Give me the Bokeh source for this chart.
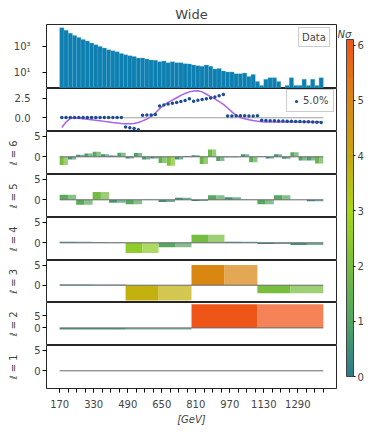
import numpy as np
from bokeh.plotting import figure
from bokeh.layouts import column, row
from bokeh.models import (Range1d, FixedTicker, ColumnDataSource, LinearColorMapper, ColorBar,
                          Legend, LegendItem, Label, NumeralTickFormatter)
from bokeh.transform import transform
from bokeh.embed import file_html
from bokeh.resources import INLINE

# ---------------- data ----------------
title_text = "Wide"
x_lo, x_hi, bin_width = 170, 1410, 20

hist_counts = [24500, 16300, 9600, 6500, 4550, 3200, 2400, 1690, 1270, 950,
               710, 530, 450, 375, 280, 223, 187, 166, 124, 124,
               104, 88, 83, 66, 73, 55, 66, 55, 55, 46,
               44, 36, 32, 30, 36, 30, 18, 20, 13, 11,
               11, 8, 8, 9, 5, 7, 2, 1, 3, 4,
               4, 2, 0, 1, 4, 1, 1, 3, 1, 3,
               1, 4]

ratio_points = [0.04, 0.03, 0.03, 0.03, 0.03, 0.03, 0.03, 0.03, 0.03, 0.03,
                0.03, 0.03, 0.03, 0.03, 0.03,
                -1.19, -1.28, -1.36, -1.53,
                0.32, 0.34, 0.36, 0.42,
                1.49, 1.62, 1.74, 1.85, 1.96, 2.07, 2.20, 2.42,
                2.12, 2.22, 2.32, 2.42, 2.53, 2.65, 2.80, 2.97,
                0.22, 0.24, 0.26, 0.26, 0.25, 0.24, 0.24, 0.25,
                -0.32, -0.35, -0.37, -0.39, -0.40, -0.42, -0.44, -0.45,
                -0.47, -0.49, -0.50, -0.52, -0.54, -0.56, -0.60]

ratio_curve = [-1.25, -0.55, -0.08, -0.02, -0.06, -0.12, -0.18, -0.25, -0.32, -0.39,
               -0.46, -0.53, -0.60, -0.66, -0.72, -0.76, -0.76, -0.72, -0.60, -0.40,
               -0.15, 0.15, 0.60, 1.15, 1.60, 1.95, 2.25, 2.55, 2.85, 3.10,
               3.30, 3.42, 3.45, 3.30, 3.00, 2.70, 2.40, 2.05, 1.70, 1.25,
               0.75, 0.30, 0.02, -0.12, -0.25, -0.36, -0.45, -0.50, -0.53, -0.54,
               -0.55, -0.55, -0.55, -0.55, -0.55, -0.55, -0.55, -0.55, -0.55, -0.55,
               -0.55, -0.55]

legend_data = "Data"
legend_ratio = "5.0%"

coef_l1 = [0.0]
coef_l2 = [-0.65, 9.9]
coef_l3 = [0.15, -3.8, 5.0, -2.0]
coef_l4 = [0.24, 0.16, -2.5, -1.05, 1.94, 0.24, -0.32, -0.55]
coef_l5 = [1.2, -1.2, 1.9, -0.7, -1.1, -0.05, -0.55, 0.5,
           -0.3, 1.1, 0.6, 0.05, -1.1, 1.1, 0.0, -0.35]
coef_l6 = [-2.0, -0.67, 0.5, 0.8, 1.2, 0.6, 0.33, 1.0,
           -0.4, 0.9, -0.67, -0.4, -1.5, -2.2, -0.67, 0.2,
           0.37, -1.75, 1.78, -1.0, -0.12, -0.1, 0.62, -1.3,
           0.12, -0.42, 0.6, -0.5, 1.1, -0.9, -0.9, -1.6]
level_names = ["ℓ = 6", "ℓ = 5", "ℓ = 4", "ℓ = 3", "ℓ = 2", "ℓ = 1"]
level_coefs = [coef_l6, coef_l5, coef_l4, coef_l3, coef_l2, coef_l1]

x_major_ticks = [170, 330, 490, 650, 810, 970, 1130, 1290]
x_minor_ticks = list(range(170, 1411, 40))
cbar_ticks = [0, 1, 2, 3, 4, 5, 6]
x_label = "[GeV]"
cbar_label = "Nσ"

# ---------------- style ----------------
FONT = "DejaVu Sans"
FS = "10px"
cmap_stops = [(0.0, "#2c7b8e"), (1.0, "#52a562"), (2.0, "#78be3e"), (3.0, "#a8d814"),
              (4.0, "#c8a70e"), (5.0, "#da8712"), (6.1, "#f05518")]
c_high = 6.1
LEFT = 46
FIG_W = LEFT + 290 + 1
CB_W = 34
TOTAL_H = 427


def hex2rgb(h):
    return [int(h[i:i + 2], 16) for i in (1, 3, 5)]


def build_palette(n=256):
    vals = np.linspace(0, c_high, n)
    sv = [s[0] for s in cmap_stops]
    rgb = np.array([hex2rgb(s[1]) for s in cmap_stops], dtype=float)
    out = []
    for v in vals:
        r = np.interp(v, sv, rgb[:, 0]); g = np.interp(v, sv, rgb[:, 1]); b = np.interp(v, sv, rgb[:, 2])
        out.append("#%02x%02x%02x" % (int(round(r)), int(round(g)), int(round(b))))
    return out


mapper = LinearColorMapper(palette=build_palette(), low=0, high=c_high)

edges = np.arange(x_lo, x_hi + bin_width, bin_width)
centers = 0.5 * (edges[:-1] + edges[1:])
x_range = Range1d(108, 1472)


def style_y(p, ticks, label=None, standoff=2):
    p.yaxis.ticker = FixedTicker(ticks=ticks)
    p.yaxis.axis_line_color = None
    p.yaxis.major_tick_out = 4
    p.yaxis.major_tick_in = 0
    p.yaxis.minor_tick_out = 0
    p.yaxis.minor_tick_in = 0
    p.yaxis.major_label_text_font_size = FS
    p.yaxis.major_label_text_font = FONT
    p.yaxis.major_label_standoff = standoff
    if label:
        p.yaxis.axis_label = label
        p.yaxis.axis_label_text_font_size = FS
        p.yaxis.axis_label_text_font = FONT
        p.yaxis.axis_label_text_font_style = "normal"
        p.yaxis.axis_label_standoff = 12


def make_fig(height, y_range, y_type="linear", xaxis=False, title=None, top=0, bottom=0):
    kw = dict(width=FIG_W, height=height, x_range=x_range, y_range=y_range,
              y_axis_type=y_type, output_backend="svg", toolbar_location=None,
              x_axis_location="below" if xaxis else None,
              min_border_left=LEFT, min_border_right=1, min_border_top=top, min_border_bottom=bottom)
    if title:
        kw["title"] = title
    p = figure(**kw)
    p.xgrid.visible = False
    p.ygrid.visible = False
    p.outline_line_color = "black"
    p.outline_line_width = 1
    p.outline_line_alpha = 0.85
    p.background_fill_color = "white"
    p.border_fill_color = "white"
    return p


# ---- top histogram ----
p_top = make_fig(88, Range1d(0.6, 44000), y_type="log", title=title_text, top=24)
p_top.title.align = "center"
p_top.title.text_font_size = "13px"
p_top.title.text_font = FONT
p_top.title.text_font_style = "normal"
p_top.title.standoff = 5
counts = np.array(hist_counts, dtype=float)
mask = counts > 0
hsrc = ColumnDataSource(dict(left=edges[:-1][mask], right=edges[1:][mask], top=counts[mask]))
hr = p_top.quad(left="left", right="right", bottom=0.01, top="top", source=hsrc,
                fill_color="#0d7fb0", line_color="#5eaed3", line_width=0.5, line_alpha=0.6)
style_y(p_top, [10, 1000], standoff=12)
p_top.yaxis.major_label_overrides = {10: "10¹", 1000: "10³"}
leg_top = Legend(items=[LegendItem(label=legend_data, renderers=[hr])], location=(252, 41),
                 glyph_width=0, glyph_height=12, label_standoff=0, label_height=12, padding=3,
                 label_text_font_size=FS, label_text_font=FONT, border_line_color="#999999",
                 border_line_width=1, background_fill_alpha=1)
p_top.add_layout(leg_top)

# ---- ratio panel ----
p_rat = make_fig(43, Range1d(-1.75, 3.73))
p_rat.line(x=[x_lo, x_hi], y=[0, 0], line_color="#a0a0a0", line_width=1.2)
p_rat.line(x=centers, y=ratio_curve, line_color="#a862ea", line_width=1.5)
sc = p_rat.scatter(x=centers, y=ratio_points, size=3.5, fill_color="#1c4c96", line_color=None)
style_y(p_rat, [0, 2.5], standoff=12)
p_rat.yaxis.formatter = NumeralTickFormatter(format="0.0")
leg_rat = Legend(items=[LegendItem(label=legend_ratio, renderers=[sc])], location=(240, 19),
                 glyph_width=8, glyph_height=8, label_standoff=3, label_height=8, padding=5,
                 label_text_font_size=FS, label_text_font=FONT, border_line_color="#999999",
                 border_line_width=1, background_fill_alpha=1)
p_rat.add_layout(leg_rat)

# ---- wavelet level panels ----
level_heights = [43, 43, 43, 42, 43, 82]
panels = [p_top, p_rat]
for name, coefs, fh in zip(level_names, level_coefs, level_heights):
    c = np.array(coefs, dtype=float)
    n = len(c)
    w_edges = np.linspace(x_lo, x_hi, n + 1)
    mids = 0.5 * (w_edges[:-1] + w_edges[1:])
    big = name == "ℓ = 2"
    yr = Range1d(-7.33, 10.58) if big else Range1d(-4.3, 6.15)
    is_last = name == "ℓ = 1"
    p = make_fig(fh, yr, xaxis=is_last, bottom=39 if is_last else 0)
    src1 = ColumnDataSource(dict(left=w_edges[:-1], right=mids, top=c, sig=np.abs(c)))
    src2 = ColumnDataSource(dict(left=mids, right=w_edges[1:], top=c, sig=np.abs(c)))
    p.quad(left="left", right="right", bottom=0, top="top", source=src1,
           fill_color=transform("sig", mapper), line_color=None, fill_alpha=1.0)
    p.quad(left="left", right="right", bottom=0, top="top", source=src2,
           fill_color=transform("sig", mapper), line_color=None, fill_alpha=0.72)
    p.line(x=[x_lo, x_hi], y=[0, 0], line_color="#6a6a6a", line_width=1)
    style_y(p, [0, 5], label=name, standoff=2)
    if is_last:
        p.xaxis.ticker = FixedTicker(ticks=x_major_ticks, minor_ticks=x_minor_ticks)
        p.xaxis.axis_line_color = None
        p.xaxis.major_tick_out = 4
        p.xaxis.major_tick_in = 0
        p.xaxis.minor_tick_out = 4
        p.xaxis.minor_tick_in = 0
        p.xaxis.major_label_standoff = 7
        p.xaxis.major_label_text_font_size = FS
        p.xaxis.major_label_text_font = FONT
        p.xaxis.axis_label = x_label
        p.xaxis.axis_label_text_font_size = FS
        p.xaxis.axis_label_text_font = FONT
        p.xaxis.axis_label_text_font_style = "italic"
        p.xaxis.axis_label_standoff = 3
    panels.append(p)

# ---- colorbar ----
cb_fig = figure(width=CB_W, height=TOTAL_H, output_backend="svg", toolbar_location=None,
                x_axis_location=None, y_axis_location=None, x_range=Range1d(0, 1),
                y_range=Range1d(0, 1), min_border=0)
cb_fig.outline_line_color = None
cb_fig.xgrid.visible = False
cb_fig.ygrid.visible = False
cb = ColorBar(color_mapper=mapper, ticker=FixedTicker(ticks=cbar_ticks), location=(9, 51),
              width=7, height=337, padding=0, major_tick_in=0, major_tick_out=2,
              major_tick_line_color="black", label_standoff=2, major_label_text_font_size=FS,
              major_label_text_font=FONT, bar_line_color="#444444", border_line_color=None,
              background_fill_color=None)
cb_fig.add_layout(cb)
cb_fig.add_layout(Label(x=0, y=388, x_units="screen", y_units="screen", text=cbar_label,
                        text_font_style="italic", text_font_size=FS, text_font=FONT))

layout = row(column(*panels, spacing=0), cb_fig, spacing=0)
open("out.html", "w").write(file_html(layout, INLINE))
